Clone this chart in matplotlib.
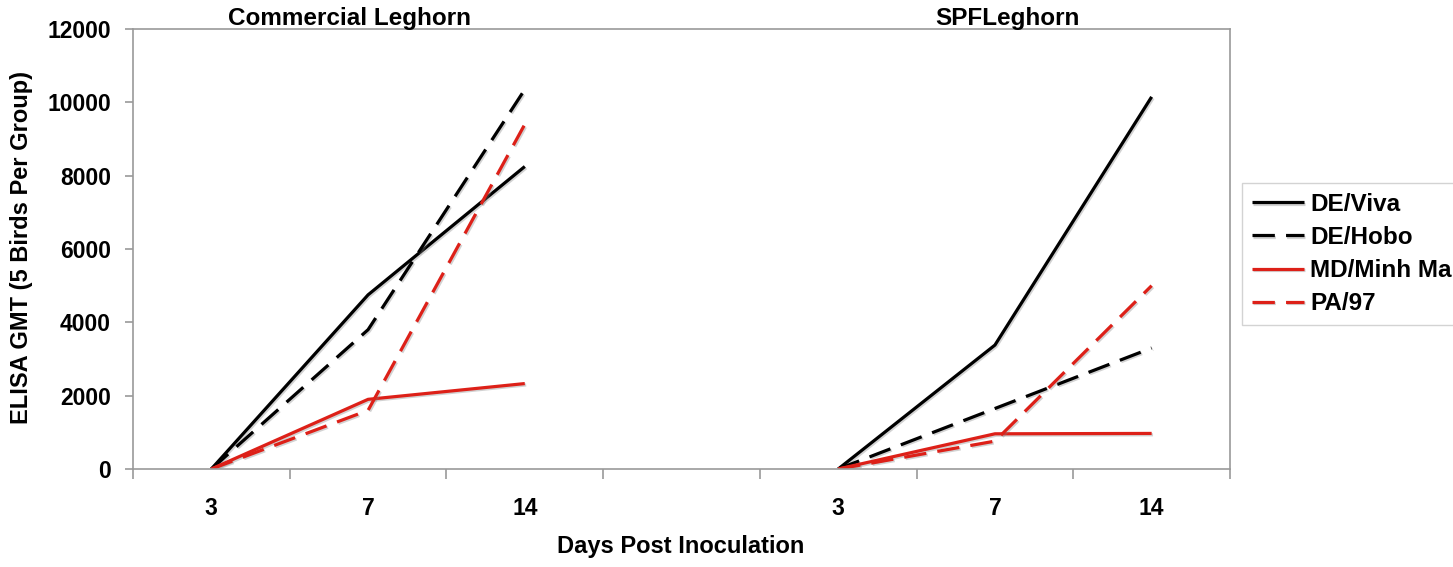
import matplotlib
matplotlib.use("Agg")
import matplotlib.pyplot as plt
import matplotlib.patheffects as pe
from matplotlib.ticker import FixedLocator, NullFormatter, FixedFormatter

plt.rcParams['font.family'] = ['Liberation Sans', 'DejaVu Sans']
plt.rcParams['font.weight'] = 'bold'

days = ["3", "7", "14"]
groups = ["Commercial Leghorn", "SPFLeghorn"]
series_names = ["DE/Viva", "DE/Hobo", "MD/Minh Ma", "PA/97"]

commercial = {
    "DE/Viva":    [0, 4750, 8250],
    "DE/Hobo":    [0, 3800, 10350],
    "MD/Minh Ma": [0, 1900, 2330],
    "PA/97":      [0, 1600, 9400],
}
spf = {
    "DE/Viva":    [0, 3380, 10150],
    "DE/Hobo":    [0, 1650, 3300],
    "MD/Minh Ma": [0, 960, 970],
    "PA/97":      [0, 760, 5000],
}

styles = {
    "DE/Viva":    dict(color="black", dashes=None),
    "DE/Hobo":    dict(color="black", dashes=(7, 3.5)),
    "MD/Minh Ma": dict(color="#dd2018", dashes=None),
    "PA/97":      dict(color="#dd2018", dashes=(7, 3.5)),
}

W, H = 1453, 567
fig = plt.figure(figsize=(W / 100, H / 100), dpi=100)
ax = fig.add_axes([133 / W, 1 - 469 / H, (1230 - 133) / W, (469 - 29) / H])

left_x = [0, 1, 2]
right_x = [4, 5, 6]
shadow = [pe.SimpleLineShadow(offset=(1, -1), shadow_color='grey', alpha=0.35), pe.Normal()]

for name in series_names:
    st = styles[name]
    kw = dict(color=st["color"], lw=2.3, solid_capstyle='butt', path_effects=shadow)
    l1, = ax.plot(left_x, commercial[name], label=name, **kw)
    l2, = ax.plot(right_x, spf[name], **kw)
    if st["dashes"]:
        l1.set_dashes(st["dashes"])
        l2.set_dashes(st["dashes"])

ax.set_xlim(-0.5, 6.5)
ax.set_ylim(0, 12000)

grey = "#9a9a9a"
for s in ax.spines.values():
    s.set_color(grey)
    s.set_linewidth(1.2)

ax.set_yticks(range(0, 12001, 2000))
ax.tick_params(axis='y', direction='out', length=6, color=grey, width=1.2, pad=10, labelsize=16.5)

ax.xaxis.set_major_locator(FixedLocator([-0.5, 0.5, 1.5, 2.5, 3.5, 4.5, 5.5, 6.5]))
ax.xaxis.set_major_formatter(NullFormatter())
ax.xaxis.set_minor_locator(FixedLocator(left_x + right_x))
ax.xaxis.set_minor_formatter(FixedFormatter(days + days))
ax.tick_params(axis='x', which='major', direction='out', length=7, color=grey, width=1.2)
ax.tick_params(axis='x', which='minor', length=0, pad=20, labelsize=16.5)

for lab in ax.get_yticklabels() + ax.get_xticklabels(minor=True):
    lab.set_fontweight('bold')

for gx, gname in zip([0.88, 5.08], groups):
    ax.annotate(gname, xy=(gx, 12000), xytext=(0, 3), textcoords='offset points',
                ha='center', va='baseline', fontsize=17.5, fontweight='bold',
                annotation_clip=False)

fig.text(22 / W, 1 - 248 / H, "ELISA GMT (5 Birds Per Group)", rotation=90,
         ha='center', va='center', fontsize=17, fontweight='bold')
fig.text(681 / W, 1 - 547 / H, "Days Post Inoculation", ha='center', va='center',
         fontsize=17, fontweight='bold')

leg = ax.legend(loc='upper left', bbox_to_anchor=(1242 / W, 1 - 183 / H),
                bbox_transform=fig.transFigure, borderaxespad=0, fancybox=False,
                frameon=True, edgecolor='#c8c8c8', fontsize=17.5, handlelength=2.15,
                handletextpad=0.25, labelspacing=0.42, borderpad=0.4)
leg.get_frame().set_linewidth(1.0)
for t in leg.get_texts():
    t.set_fontweight('bold')

fig.savefig("out.png", dpi=100)
